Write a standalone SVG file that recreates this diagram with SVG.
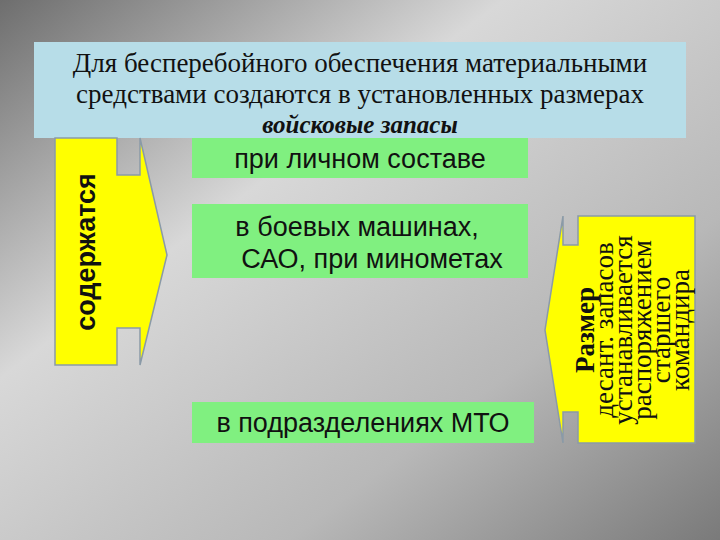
<svg xmlns="http://www.w3.org/2000/svg" width="720" height="540" viewBox="0 0 720 540">
<defs>
<linearGradient id="bg" x1="0" y1="0" x2="1" y2="1">
<stop offset="0" stop-color="#6e6e6e"/><stop offset="0.35" stop-color="#d8d8d8"/><stop offset="0.7" stop-color="#b8b8b8"/><stop offset="1" stop-color="#7a7a7a"/>
</linearGradient>
<style>
.g{fill:#80f080}
.y{fill:#ffff00;stroke:#8a9aa8;stroke-width:1.5}
.t{font-family:"Liberation Sans",Arial,sans-serif;font-size:27px;fill:#111}
.s{font-family:"Liberation Serif","Times New Roman",serif;fill:#111}
</style>
</defs>
<rect width="720" height="540" fill="url(#bg)"/>
<g id="header">
<rect x="34" y="42" width="652" height="96" fill="#b7dde8"/>
<text class="s" font-size="27" x="360" y="72" text-anchor="middle">Для бесперебойного обеспечения материальными</text>
<text class="s" font-size="27" x="360" y="103" text-anchor="middle">средствами создаются в установленных размерах</text>
<text class="s" font-size="25" x="360" y="133" text-anchor="middle" font-weight="bold" font-style="italic">войсковые запасы</text>
</g>
<g id="left-arrow">
<path class="y" d="M55,138 H117 V175 H140 V138 L167,255 L140,365 V328 H117 V365 H55 Z"/>
<text class="t" font-size="30" font-weight="bold" transform="translate(95,252) rotate(-90)" text-anchor="middle">содержатся</text>
</g>
<g id="box1"><rect class="g" x="192" y="138" width="336" height="40"/><text class="t" x="360" y="168" text-anchor="middle">при личном составе</text></g>
<g id="box2"><rect class="g" x="192" y="204" width="336" height="74"/><text class="t" x="357" y="236" text-anchor="middle">в боевых машинах,</text><text class="t" x="372" y="268" text-anchor="middle">САО, при минометах</text></g>
<g id="box3"><rect class="g" x="192" y="402" width="342" height="41"/><text class="t" x="363" y="432" text-anchor="middle">в подразделениях МТО</text></g>
<g id="right-arrow">
<path class="y" d="M695,216 V443 H578 V412 H563 V443 L545,330 L563,216 V245 H578 V216 Z"/>
<g transform="translate(636,330) rotate(-90)">
<text class="s" font-size="27" text-anchor="middle" x="0" y="-42"><tspan font-weight="bold">Размер</tspan><tspan x="0" dy="19">десант. запасов</tspan><tspan x="0" dy="19">устанавливается</tspan><tspan x="0" dy="19">распоряжением</tspan><tspan x="0" dy="19">старшего</tspan><tspan x="0" dy="19">командира</tspan></text>
</g>
</g>
<g id="connectors"/>
</svg>
